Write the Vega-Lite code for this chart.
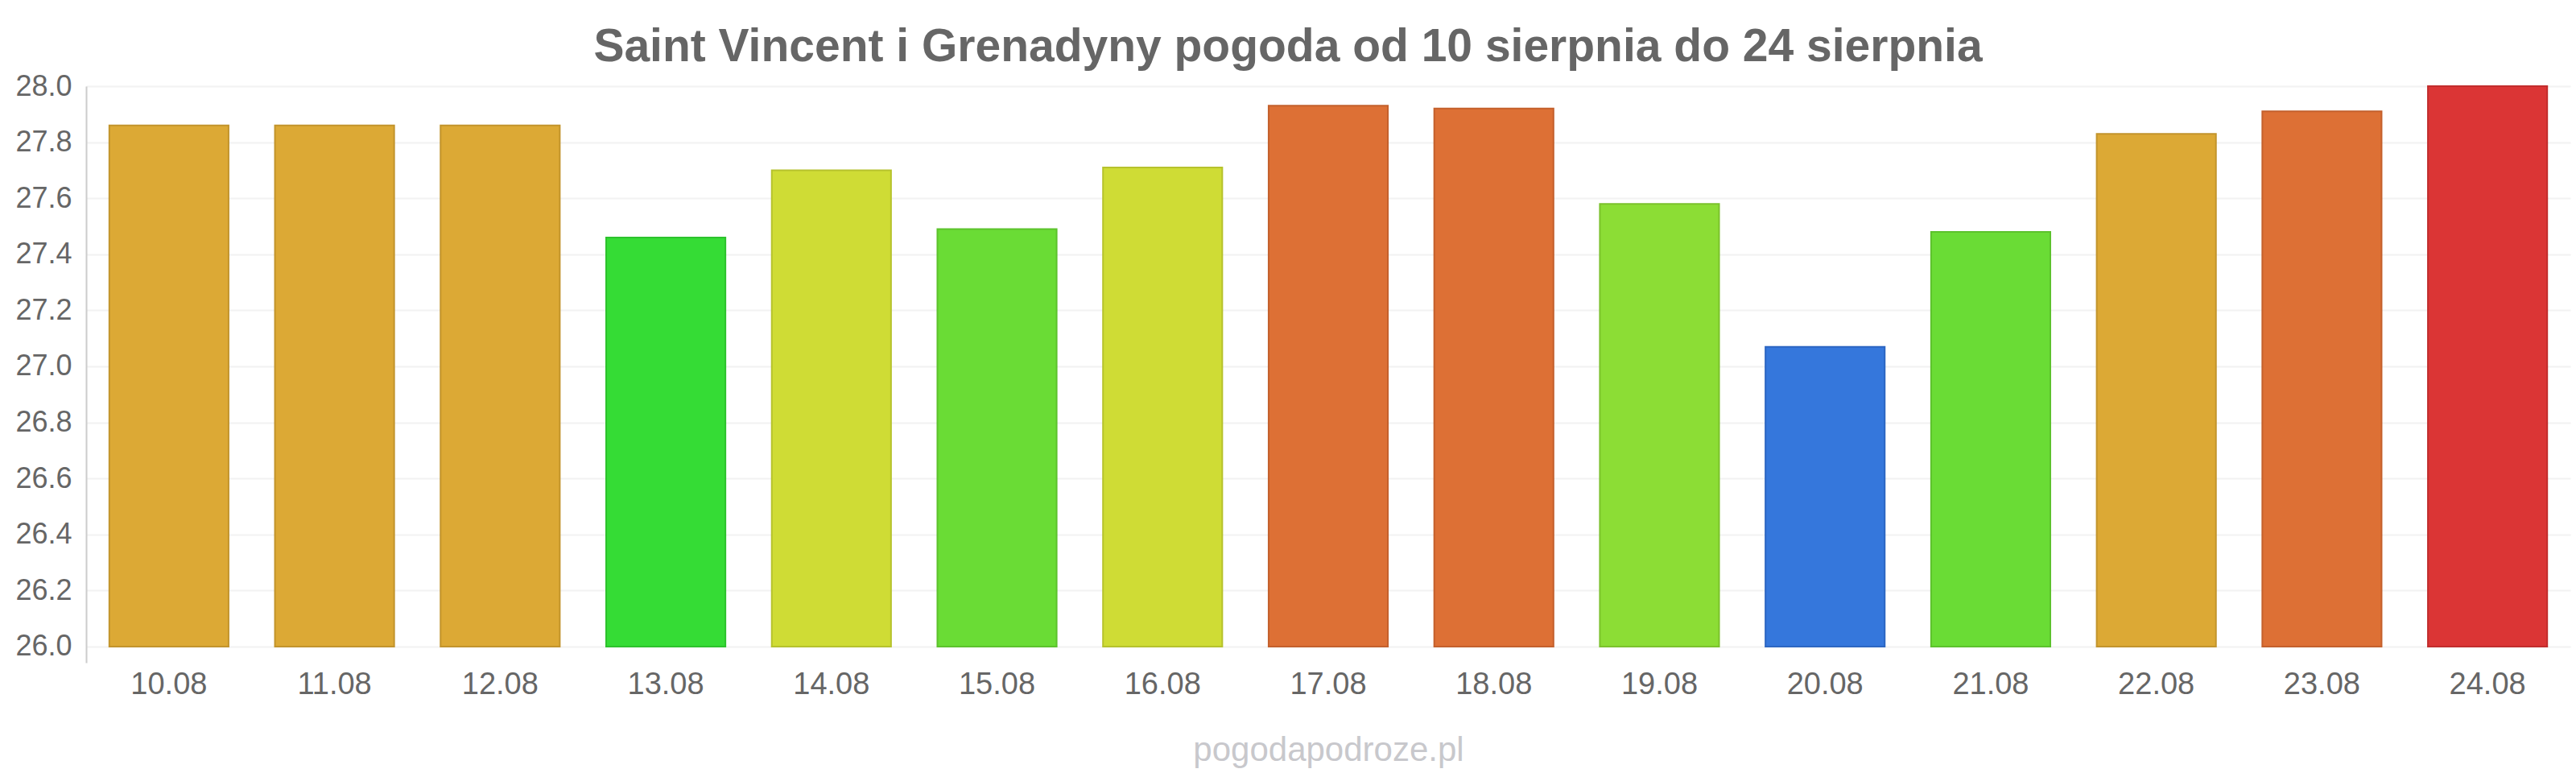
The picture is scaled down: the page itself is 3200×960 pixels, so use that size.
{
  "$schema": "https://vega.github.io/schema/vega-lite/v6.json",
  "width": 3086,
  "height": 716,
  "autosize": {"type": "none"},
  "padding": {"left": 107, "top": 107, "right": 7, "bottom": 137},
  "background": "white",
  "view": {"stroke": null},
  "title": {
    "text": "Saint Vincent i Grenadyny pogoda od 10 sierpnia do 24 sierpnia",
    "font": "Liberation Sans",
    "fontSize": 57,
    "fontWeight": "bold",
    "color": "#666666",
    "anchor": "middle",
    "frame": "group",
    "dx": -50,
    "offset": 1
  },
  "data": {
    "values": [
      {"dzien": "10.08", "temp": 27.86},
      {"dzien": "11.08", "temp": 27.86},
      {"dzien": "12.08", "temp": 27.86},
      {"dzien": "13.08", "temp": 27.46},
      {"dzien": "14.08", "temp": 27.70},
      {"dzien": "15.08", "temp": 27.49},
      {"dzien": "16.08", "temp": 27.71},
      {"dzien": "17.08", "temp": 27.93},
      {"dzien": "18.08", "temp": 27.92},
      {"dzien": "19.08", "temp": 27.58},
      {"dzien": "20.08", "temp": 27.07},
      {"dzien": "21.08", "temp": 27.48},
      {"dzien": "22.08", "temp": 27.83},
      {"dzien": "23.08", "temp": 27.91},
      {"dzien": "24.08", "temp": 28.0}
    ]
  },
  "mark": {"type": "bar", "strokeWidth": 2},
  "encoding": {
    "x": {
      "field": "dzien",
      "type": "nominal",
      "sort": null,
      "scale": {"paddingInner": 0.28, "paddingOuter": 0.14},
      "axis": {
        "title": "pogodapodroze.pl",
        "titleFont": "Liberation Sans",
        "titleFontSize": 42,
        "titleFontWeight": "normal",
        "titleColor": "#c8c8cc",
        "titlePadding": 42,
        "labelFont": "Liberation Sans",
        "labelFontSize": 38,
        "labelColor": "#666666",
        "labelAngle": 0,
        "labelPadding": 8,
        "ticks": false,
        "domain": false,
        "grid": false
      }
    },
    "y": {
      "field": "temp",
      "type": "quantitative",
      "scale": {"domain": [25.9425, 28], "nice": false, "zero": false},
      "axis": {
        "title": null,
        "values": [26, 26.2, 26.4, 26.6, 26.8, 27, 27.2, 27.4, 27.6, 27.8, 28],
        "format": ".1f",
        "labelFont": "Liberation Sans",
        "labelFontSize": 36,
        "labelColor": "#666666",
        "labelPadding": 18,
        "ticks": false,
        "domainColor": "#cccccc",
        "domainWidth": 2,
        "gridColor": "#f2f2f2",
        "gridWidth": 2
      }
    },
    "y2": {"datum": 26},
    "fill": {
      "field": "temp",
      "type": "quantitative",
      "legend": null,
      "scale": {
        "type": "threshold",
        "domain": [27.3, 27.47, 27.53, 27.65, 27.78, 27.895, 27.97],
        "range": ["#3577dc", "#35dc35", "#6adc35", "#8cdd35", "#cfdc35", "#dca935", "#dd7035", "#db3535"]
      }
    },
    "stroke": {
      "field": "temp",
      "type": "quantitative",
      "legend": null,
      "scale": {
        "type": "threshold",
        "domain": [27.3, 27.47, 27.53, 27.65, 27.78, 27.895, 27.97],
        "range": ["#2c66c2", "#2cc22c", "#5cc22c", "#7bc22c", "#b6c22c", "#c2942c", "#c4602c", "#c22c2c"]
      }
    }
  }
}
